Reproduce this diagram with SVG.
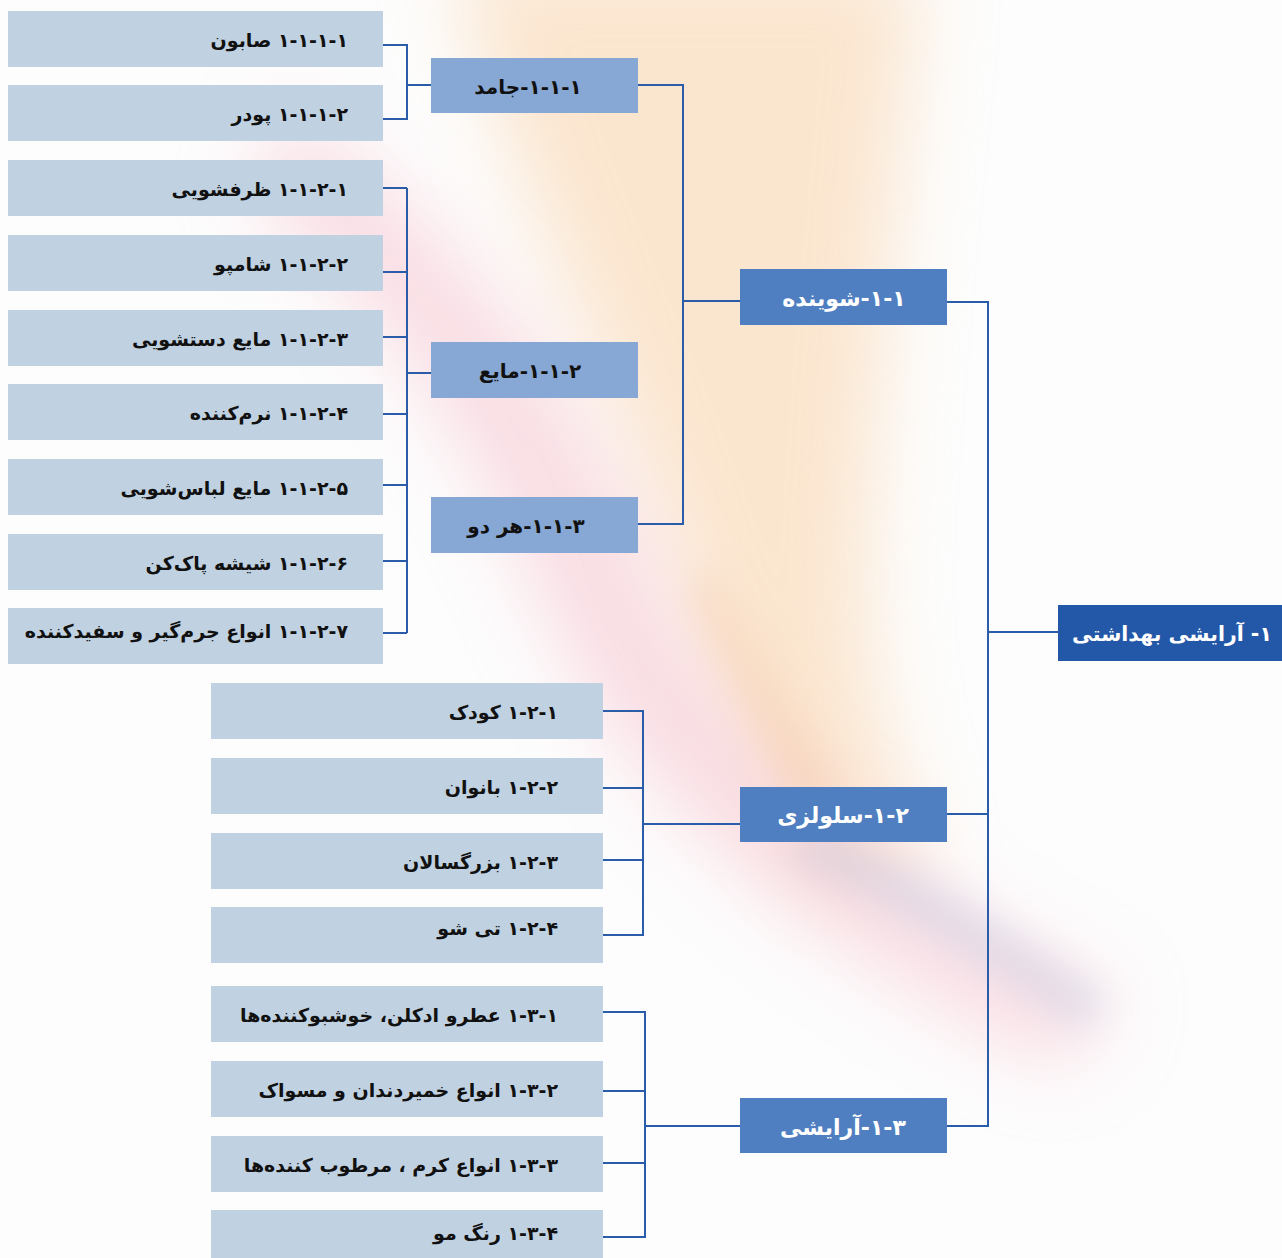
<svg xmlns="http://www.w3.org/2000/svg" width="1282" height="1258" viewBox="0 0 1282 1258">
<style>
.leaf{fill:#c0d1e2}
.mid{fill:#87a8d4}
.l2{fill:#4f7fc0}
.main{fill:#2357a8}
.t{font-family:"DejaVu Sans","Noto Sans",sans-serif;font-weight:bold;font-size:19px;direction:rtl}
.m{font-size:20px}
.b{font-size:22px}
.dk{fill:#111}
.wt{fill:#ffffff}
.ln{fill:none;stroke:#2a5caa;stroke-width:2}
</style>
<defs>
<filter id="blur" x="-50%" y="-50%" width="200%" height="200%"><feGaussianBlur stdDeviation="40"/></filter>
<filter id="blur2" x="-50%" y="-50%" width="200%" height="200%"><feGaussianBlur stdDeviation="18"/></filter>
</defs>
<rect width="1282" height="1258" fill="#fdfdfd"/>
<g id="background">
<path d="M450 -40 L920 -40 C900 150 880 350 870 520 C860 650 880 760 930 860 L820 880 C760 760 700 640 660 520 C600 350 510 180 450 -40 Z" fill="#f9d6b0" opacity="0.6" filter="url(#blur)"/>
<path d="M280 110 C440 200 570 380 650 560 C730 740 900 900 1120 1000 L1060 1070 C840 960 640 820 560 640 C480 460 390 300 250 200 Z" fill="#f6c6d0" opacity="0.6" filter="url(#blur)"/>
<path d="M700 560 C760 640 800 720 840 800 L800 820 C760 740 720 660 690 600 Z" fill="#f3c090" opacity="0.3" filter="url(#blur2)"/>
<path d="M810 820 C900 860 1000 920 1110 1000 L1080 1030 C980 960 880 900 790 860 Z" fill="#b8c0dc" opacity="0.35" filter="url(#blur2)"/>
</g>
<g id="connectors">
<polyline class="ln" points="383,45 407,45 407,119 383,119"/>
<line class="ln" x1="407" y1="85" x2="431" y2="85"/>
<line class="ln" x1="407" y1="188" x2="407" y2="633"/>
<line class="ln" x1="383" y1="188" x2="407" y2="188"/>
<line class="ln" x1="383" y1="272" x2="407" y2="272"/>
<line class="ln" x1="383" y1="337" x2="407" y2="337"/>
<line class="ln" x1="383" y1="414" x2="407" y2="414"/>
<line class="ln" x1="383" y1="485" x2="407" y2="485"/>
<line class="ln" x1="383" y1="561" x2="407" y2="561"/>
<line class="ln" x1="383" y1="633" x2="407" y2="633"/>
<line class="ln" x1="407" y1="373" x2="431" y2="373"/>
<polyline class="ln" points="638,85 683,85 683,524 638,524"/>
<line class="ln" x1="683" y1="301" x2="740" y2="301"/>
<polyline class="ln" points="947,302 988,302 988,1126 947,1126"/>
<line class="ln" x1="947" y1="814" x2="988" y2="814"/>
<line class="ln" x1="988" y1="632" x2="1058" y2="632"/>
<polyline class="ln" points="603,711 643,711 643,935 603,935"/>
<line class="ln" x1="603" y1="788" x2="643" y2="788"/>
<line class="ln" x1="603" y1="860" x2="643" y2="860"/>
<line class="ln" x1="643" y1="824" x2="740" y2="824"/>
<polyline class="ln" points="603,1012 645,1012 645,1237 603,1237"/>
<line class="ln" x1="603" y1="1091" x2="645" y2="1091"/>
<line class="ln" x1="603" y1="1163" x2="645" y2="1163"/>
<line class="ln" x1="645" y1="1126" x2="740" y2="1126"/>
</g>
<g id="n1"><rect class="main" x="1058" y="605" width="224" height="56"/><text class="t wt" x="1172" y="641" text-anchor="middle" style="font-size:20.5px">۱- آرایشی بهداشتی</text></g>
<g id="n1-1"><rect class="l2" x="740" y="269" width="207" height="56"/><text class="t b wt" x="844" y="306" text-anchor="middle">۱-۱-شوینده</text></g>
<g id="n1-2"><rect class="l2" x="740" y="787" width="207" height="55"/><text class="t b wt" x="843" y="823" text-anchor="middle">۱-۲-سلولزی</text></g>
<g id="n1-3"><rect class="l2" x="740" y="1098" width="207" height="55"/><text class="t b wt" x="843" y="1135" text-anchor="middle">۱-۳-آرایشی</text></g>
<g id="n1-1-1"><rect class="mid" x="431" y="58" width="207" height="55"/><text class="t m dk" x="528" y="94" text-anchor="middle">۱-۱-۱-جامد</text></g>
<g id="n1-1-2"><rect class="mid" x="431" y="342" width="207" height="56"/><text class="t m dk" x="530" y="378" text-anchor="middle">۱-۱-۲-مایع</text></g>
<g id="n1-1-3"><rect class="mid" x="431" y="497" width="207" height="56"/><text class="t m dk" x="526" y="533" text-anchor="middle">۱-۱-۳-هر دو</text></g>
<g id="n1-1-1-1"><rect class="leaf" x="8" y="11" width="375" height="56"/><text class="t dk" x="348" y="47">۱-۱-۱-۱ صابون</text></g>
<g id="n1-1-1-2"><rect class="leaf" x="8" y="85" width="375" height="56"/><text class="t dk" x="348" y="121">۱-۱-۱-۲ پودر</text></g>
<g id="n1-1-2-1"><rect class="leaf" x="8" y="160" width="375" height="56"/><text class="t dk" x="348" y="196">۱-۱-۲-۱ ظرفشویی</text></g>
<g id="n1-1-2-2"><rect class="leaf" x="8" y="235" width="375" height="56"/><text class="t dk" x="348" y="271">۱-۱-۲-۲ شامپو</text></g>
<g id="n1-1-2-3"><rect class="leaf" x="8" y="310" width="375" height="56"/><text class="t dk" x="348" y="346">۱-۱-۲-۳ مایع دستشویی</text></g>
<g id="n1-1-2-4"><rect class="leaf" x="8" y="384" width="375" height="56"/><text class="t dk" x="348" y="420">۱-۱-۲-۴ نرم‌کننده</text></g>
<g id="n1-1-2-5"><rect class="leaf" x="8" y="459" width="375" height="56"/><text class="t dk" x="348" y="495">۱-۱-۲-۵ مایع لباس‌شویی</text></g>
<g id="n1-1-2-6"><rect class="leaf" x="8" y="534" width="375" height="56"/><text class="t dk" x="348" y="570">۱-۱-۲-۶ شیشه پاک‌کن</text></g>
<g id="n1-1-2-7"><rect class="leaf" x="8" y="608" width="375" height="56"/><text class="t dk" x="348" y="638">۱-۱-۲-۷ انواع جرم‌گیر و سفیدکننده</text></g>
<g id="n1-2-1"><rect class="leaf" x="211" y="683" width="392" height="56"/><text class="t dk" x="558" y="719">۱-۲-۱ کودک</text></g>
<g id="n1-2-2"><rect class="leaf" x="211" y="758" width="392" height="56"/><text class="t dk" x="558" y="794">۱-۲-۲ بانوان</text></g>
<g id="n1-2-3"><rect class="leaf" x="211" y="833" width="392" height="56"/><text class="t dk" x="558" y="869">۱-۲-۳ بزرگسالان</text></g>
<g id="n1-2-4"><rect class="leaf" x="211" y="907" width="392" height="56"/><text class="t dk" x="558" y="935">۱-۲-۴ تی شو</text></g>
<g id="n1-3-1"><rect class="leaf" x="211" y="986" width="392" height="56"/><text class="t dk" x="558" y="1022">۱-۳-۱ عطرو ادکلن، خوشبوکننده‌ها</text></g>
<g id="n1-3-2"><rect class="leaf" x="211" y="1061" width="392" height="56"/><text class="t dk" x="558" y="1097">۱-۳-۲ انواع خمیردندان و مسواک</text></g>
<g id="n1-3-3"><rect class="leaf" x="211" y="1136" width="392" height="56"/><text class="t dk" x="558" y="1172">۱-۳-۳ انواع کرم ، مرطوب کننده‌ها</text></g>
<g id="n1-3-4"><rect class="leaf" x="211" y="1210" width="392" height="48"/><text class="t dk" x="558" y="1240">۱-۳-۴ رنگ مو</text></g>
</svg>
